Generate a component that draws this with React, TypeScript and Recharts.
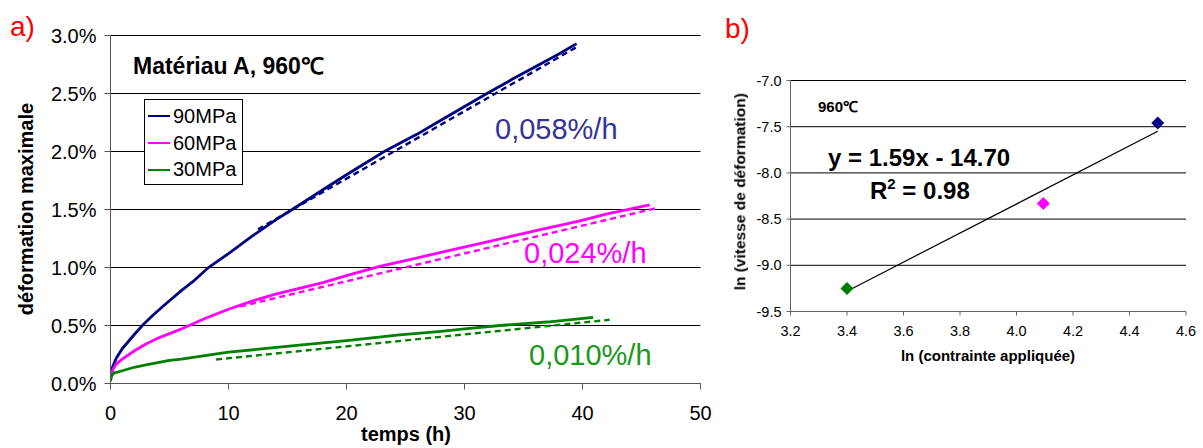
import React from 'react';
import { LineChart, Line, XAxis, YAxis, CartesianGrid, ComposedChart, Scatter } from 'recharts';

const FONT = '"Liberation Sans", Arial, Helvetica, sans-serif';

// a) creep curves, time (h) vs max strain (%)
const timeTicks = [0, 10, 20, 30, 40, 50];
const strainTicks = [0, 0.5, 1, 1.5, 2, 2.5, 3];

const creep90 = [
  { t: 0, e: 0.07 }, { t: 0.2, e: 0.15 }, { t: 0.5, e: 0.22 }, { t: 1, e: 0.3 }, { t: 1.5, e: 0.36 },
  { t: 2, e: 0.42 }, { t: 2.7, e: 0.5 }, { t: 3.5, e: 0.58 }, { t: 4.5, e: 0.67 }, { t: 6, e: 0.8 },
  { t: 7, e: 0.88 }, { t: 8.3, e: 1.0 }, { t: 10, e: 1.12 }, { t: 12, e: 1.27 }, { t: 14, e: 1.41 },
  { t: 15.4, e: 1.5 }, { t: 18, e: 1.67 }, { t: 20, e: 1.8 }, { t: 23.2, e: 2.0 }, { t: 26, e: 2.15 },
  { t: 28, e: 2.27 }, { t: 31.9, e: 2.5 }, { t: 34, e: 2.62 }, { t: 36, e: 2.73 }, { t: 38, e: 2.84 },
  { t: 39.5, e: 2.93 },
];
const creep60 = [
  { t: 0, e: 0.04 }, { t: 0.2, e: 0.12 }, { t: 0.5, e: 0.17 }, { t: 1, e: 0.21 }, { t: 2, e: 0.28 },
  { t: 3, e: 0.34 }, { t: 4, e: 0.39 }, { t: 5, e: 0.43 }, { t: 6, e: 0.47 }, { t: 8, e: 0.56 },
  { t: 10, e: 0.64 }, { t: 12, e: 0.71 }, { t: 14, e: 0.77 }, { t: 16, e: 0.82 }, { t: 18, e: 0.87 },
  { t: 20, e: 0.93 }, { t: 22.8, e: 1.01 }, { t: 25, e: 1.06 }, { t: 28, e: 1.13 }, { t: 31, e: 1.2 },
  { t: 34, e: 1.27 }, { t: 37, e: 1.34 }, { t: 39.7, e: 1.4 }, { t: 42, e: 1.46 }, { t: 45.7, e: 1.54 },
];
const creep30 = [
  { t: 0, e: 0.02 }, { t: 0.1, e: 0.07 }, { t: 0.3, e: 0.09 }, { t: 1, e: 0.11 }, { t: 2, e: 0.14 },
  { t: 3, e: 0.16 }, { t: 4, e: 0.18 }, { t: 5, e: 0.2 }, { t: 6, e: 0.21 }, { t: 8, e: 0.24 },
  { t: 10, e: 0.27 }, { t: 13, e: 0.3 }, { t: 16, e: 0.33 }, { t: 20, e: 0.37 }, { t: 24.5, e: 0.42 },
  { t: 28, e: 0.45 }, { t: 30, e: 0.47 }, { t: 33, e: 0.5 }, { t: 37, e: 0.53 }, { t: 40.9, e: 0.57 },
];
// dashed linear fits (secondary creep)
const fit90 = [{ t: 12.5, e: 1.33 }, { t: 39.5, e: 2.9 }];
const fit60 = [{ t: 11, e: 0.665 }, { t: 46.4, e: 1.515 }];
const fit30 = [{ t: 8.95, e: 0.207 }, { t: 42.3, e: 0.549 }];

const seriesA = [
  { name: '90MPa', data: creep90, fit: fit90, color: '#000080' },
  { name: '60MPa', data: creep60, fit: fit60, color: '#FF00FF' },
  { name: '30MPa', data: creep30, fit: fit30, color: '#008000' },
];

// b) ln(stress) vs ln(strain rate)
const lnStressTicks = [3.2, 3.4, 3.6, 3.8, 4.0, 4.2, 4.4, 4.6];
const lnRateTicks = [-9.5, -9, -8.5, -8, -7.5, -7];
const point30 = [{ x: 3.4, y: -9.25 }];
const point60 = [{ x: 4.095, y: -8.33 }];
const point90 = [{ x: 4.5, y: -7.46 }];
const trendLine = [{ x: 3.4, y: -9.28 }, { x: 4.5, y: -7.55 }];

const Txt = ({ x, y, size, color = '#000', bold = false, children }: any) => (
  <div
    style={{
      position: 'absolute', left: x, top: y, fontSize: size, lineHeight: 1, fontFamily: FONT,
      fontWeight: bold ? 700 : 400, color, whiteSpace: 'nowrap',
    }}
  >
    {children}
  </div>
);

const VTxt = ({ cx, cy, size, children }: any) => (
  <div
    style={{
      position: 'absolute', left: cx - 200, top: cy - size / 2, width: 400, textAlign: 'center',
      fontSize: size, lineHeight: 1, fontFamily: FONT, fontWeight: 700, transform: 'rotate(-90deg)',
      whiteSpace: 'nowrap',
    }}
  >
    {children}
  </div>
);

const Diamond = (props: any) => {
  const { cx, cy, fill } = props;
  const r = 6.5;
  return <polygon points={`${cx},${cy - r} ${cx + r},${cy} ${cx},${cy + r} ${cx - r},${cy}`} fill={fill} />;
};

const tickA = { fill: '#000', fontSize: 20, fontFamily: FONT };
const tickB = { fill: '#000', fontSize: 14.5, fontFamily: FONT };

export default function App() {
  return (
    <div style={{ position: 'fixed', left: 0, top: 0, width: 1203, height: 448, background: '#fff', fontFamily: FONT }}>
      <div style={{ position: 'absolute', left: 0, top: 0 }}>
        <LineChart width={720} height={448} margin={{ top: 35.5, right: 19.5, bottom: 0, left: 0 }}>
          <CartesianGrid vertical={false} stroke="#000" />
          <XAxis
            type="number" dataKey="t" domain={[0, 50]} ticks={timeTicks} height={64.5}
            tick={tickA} tickSize={6} tickMargin={16} stroke="#555" allowDataOverflow
          />
          <YAxis
            type="number" dataKey="e" domain={[0, 3]} ticks={strainTicks} width={110.5}
            tick={tickA} tickSize={6} tickMargin={8} stroke="#555"
            tickFormatter={(v: number) => `${v.toFixed(1)}%`}
          />
          {seriesA.map((s) => (
            <Line
              key={s.name + 'fit'} data={s.fit} dataKey="e" stroke={s.color} strokeWidth={2.4}
              strokeDasharray="6 4" dot={false} isAnimationActive={false}
            />
          ))}
          {seriesA.map((s) => (
            <Line
              key={s.name} data={s.data} dataKey="e" stroke={s.color} strokeWidth={2.8}
              dot={false} isAnimationActive={false}
            />
          ))}
        </LineChart>
      </div>

      {/* legend */}
      <div
        style={{
          position: 'absolute', left: 144, top: 99, width: 97, height: 81, border: '1px solid #000',
          background: '#fff', paddingTop: 3,
        }}
      >
        {seriesA.map((s) => (
          <div key={s.name} style={{ height: 26.7, lineHeight: '26.7px', fontSize: 20, display: 'flex', alignItems: 'center' }}>
            <span style={{ display: 'inline-block', width: 22, height: 2, background: s.color, marginLeft: 3, marginRight: 3 }} />
            <span>{s.name}</span>
          </div>
        ))}
      </div>

      <Txt x={10} y={13} size={28} color="#FF0000">a)</Txt>
      <Txt x={133} y={55} size={23} bold>Matériau A, 960℃</Txt>
      <Txt x={495} y={115} size={29} color="#333399">0,058%/h</Txt>
      <Txt x={524} y={239} size={29} color="#FF00FF">0,024%/h</Txt>
      <Txt x={529} y={341} size={29} color="#199919">0,010%/h</Txt>
      <VTxt cx={26} cy={209} size={20}>déformation maximale</VTxt>
      <div style={{ position: 'absolute', left: 256, top: 424, width: 300, textAlign: 'center', fontSize: 20, lineHeight: 1, fontWeight: 700 }}>
        temps (h)
      </div>

      <div style={{ position: 'absolute', left: 720, top: 0 }}>
        <ComposedChart width={483} height={448} margin={{ top: 80.5, right: 17, bottom: 0, left: 0 }}>
          <CartesianGrid vertical={false} stroke="#000" />
          <XAxis
            type="number" dataKey="x" domain={[3.2, 4.6]} ticks={lnStressTicks} height={136.5}
            tick={tickB} tickSize={4} tickMargin={10} stroke="#666" allowDataOverflow
            tickFormatter={(v: number) => v.toFixed(1)}
          />
          <YAxis
            type="number" dataKey="y" domain={[-9.5, -7]} ticks={lnRateTicks} width={70.5}
            tick={tickB} tickSize={4} tickMargin={5} stroke="#666" allowDataOverflow
            tickFormatter={(v: number) => v.toFixed(1)}
          />
          <Line data={trendLine} dataKey="y" stroke="#000" strokeWidth={1.2} dot={false} isAnimationActive={false} />
          <Scatter data={point30} fill="#008000" shape={Diamond} isAnimationActive={false} />
          <Scatter data={point60} fill="#FF00FF" shape={Diamond} isAnimationActive={false} />
          <Scatter data={point90} fill="#000080" shape={Diamond} isAnimationActive={false} />
        </ComposedChart>
      </div>

      <Txt x={725} y={15} size={28} color="#FF0000">b)</Txt>
      <Txt x={818} y={99} size={15} bold>960℃</Txt>
      <Txt x={828} y={146} size={24} bold>y = 1.59x - 14.70</Txt>
      <Txt x={870} y={179} size={24} bold>
        R<sup style={{ fontSize: 15, verticalAlign: 'top', position: 'relative', top: -3 }}>2</sup> = 0.98
      </Txt>
      <VTxt cx={740} cy={192} size={15.5}>ln (vitesse de déformation)</VTxt>
      <div style={{ position: 'absolute', left: 838, top: 348, width: 300, textAlign: 'center', fontSize: 15, lineHeight: 1, fontWeight: 700 }}>
        ln (contrainte appliquée)
      </div>
    </div>
  );
}
